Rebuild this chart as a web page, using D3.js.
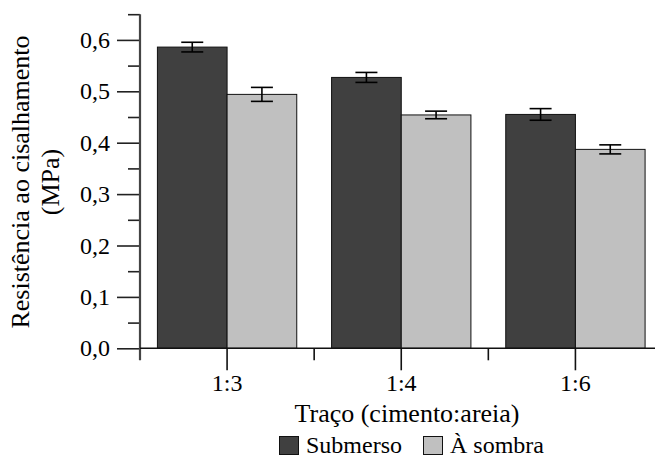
<!DOCTYPE html>
<html><head><meta charset="utf-8">
<script src="https://cdn.jsdelivr.net/npm/d3@7"></script>
<style>body{margin:0;background:#fff}svg{display:block}</style>
</head><body>
<svg id="c" width="655" height="457"></svg>
<script>
const categories = ["1:3", "1:4", "1:6"];
const seriesNames = ["Submerso", "À sombra"];
const submerso = [0.586, 0.527, 0.455];
const submersoErr = [0.0094, 0.0097, 0.0113];
const sombra = [0.494, 0.454, 0.387];
const sombraErr = [0.0136, 0.0074, 0.0088];
const yTicks = [0, 0.1, 0.2, 0.3, 0.4, 0.5, 0.6];
const yMinor = [0.05, 0.15, 0.25, 0.35, 0.45, 0.55, 0.65];
const colors = ["#404040", "#c0c0c0"];
const FONT = "'Liberation Serif'";

const svg = d3.select("#c");
const x0 = 140, xEnd = 662.5, y0 = 348.3, yTop = 14.2;
const x = d3.scaleBand().domain(categories).range([x0, xEnd]).paddingInner(0.2).paddingOuter(0.1);
const xs = d3.scaleBand().domain(seriesNames).range([0, x.bandwidth()]);
const y = d3.scaleLinear().domain([0, 0.65]).range([y0, yTop]);

const data = categories.map((c, i) => ({c, vals: [
  {s: seriesNames[0], v: submerso[i], e: submersoErr[i]},
  {s: seriesNames[1], v: sombra[i], e: sombraErr[i]}]}));

const g = svg.append("g");
data.forEach(d => {
  d.vals.forEach((b, j) => {
    g.append("rect").attr("x", x(d.c) + xs(b.s)).attr("y", y(b.v))
      .attr("width", xs.bandwidth()).attr("height", y0 - y(b.v))
      .attr("fill", colors[j]).attr("stroke", "#111").attr("stroke-width", 1);
  });
});
data.forEach(d => {
  d.vals.forEach(b => {
    const cx = x(d.c) + xs(b.s) + xs.bandwidth() / 2;
    const eg = svg.append("g").attr("stroke", "#000").attr("stroke-width", 1.6);
    eg.append("line").attr("x1", cx).attr("x2", cx).attr("y1", y(b.v + b.e)).attr("y2", y(b.v - b.e));
    eg.append("line").attr("x1", cx - 11).attr("x2", cx + 11).attr("y1", y(b.v + b.e)).attr("y2", y(b.v + b.e));
    eg.append("line").attr("x1", cx - 11).attr("x2", cx + 11).attr("y1", y(b.v - b.e)).attr("y2", y(b.v - b.e));
  });
});

const yAxis = svg.append("g").attr("transform", `translate(${x0},0)`)
  .call(d3.axisLeft(y).tickValues(yTicks).tickSize(23).tickPadding(7).tickFormat(d => d3.format(".1f")(d).replace(".", ",")));
yAxis.attr("font-family", null).attr("font-size", null);
yAxis.select(".domain").remove();
yAxis.selectAll(".tick line").attr("stroke", "#222").attr("stroke-width", 1.6);
yAxis.selectAll("text").style("font-family", FONT).style("font-size", "24px").attr("fill", "#000");
const yAxisMinor = svg.append("g").attr("transform", `translate(${x0},0)`)
  .call(d3.axisLeft(y).tickValues(yMinor).tickSize(12).tickFormat(""));
yAxisMinor.select(".domain").remove();
yAxisMinor.selectAll(".tick line").attr("stroke", "#222").attr("stroke-width", 1.6);
svg.append("line").attr("x1", x0).attr("x2", x0).attr("y1", yTop).attr("y2", y0 + 12)
  .attr("stroke", "#444").attr("stroke-width", 2.2);

svg.append("line").attr("x1", x0).attr("x2", 655).attr("y1", y0).attr("y2", y0)
  .attr("stroke", "#111").attr("stroke-width", 1.6);
const xAxis = svg.append("g").attr("transform", `translate(0,${y0})`)
  .call(d3.axisBottom(x).tickSize(22).tickPadding(4));
xAxis.attr("font-family", null).attr("font-size", null);
xAxis.select(".domain").remove();
xAxis.selectAll(".tick line").attr("stroke", "#111").attr("stroke-width", 1.6);
xAxis.selectAll("text").style("font-family", FONT).style("font-size", "24px").attr("fill", "#000");
const bounds = categories.map(c => x(c) - x.step() * x.paddingInner() / 2);
svg.append("g").selectAll("line").data(bounds.slice(1)).join("line")
  .attr("x1", d => d).attr("x2", d => d).attr("y1", y0).attr("y2", y0 + 12)
  .attr("stroke", "#111").attr("stroke-width", 1.6);

const t = (sel) => sel.style("font-family", FONT).attr("fill", "#000");
t(svg.append("text")).attr("transform", "translate(29,182) rotate(-90)").attr("text-anchor", "middle")
  .style("font-size", "26px").text("Resistência ao cisalhamento");
t(svg.append("text")).attr("transform", "translate(59,182) rotate(-90)").attr("text-anchor", "middle")
  .style("font-size", "26px").text("(MPa)");
t(svg.append("text")).attr("x", 407).attr("y", 422).attr("text-anchor", "middle")
  .style("font-size", "26px").text("Traço (cimento:areia)");

const legX = [279, 423];
seriesNames.forEach((s, i) => {
  svg.append("rect").attr("x", legX[i] + 0.5).attr("y", 436.5).attr("width", 19).attr("height", 18)
    .attr("fill", colors[i]).attr("stroke", "#111").attr("stroke-width", 1);
  t(svg.append("text")).attr("x", legX[i] + 27).attr("y", 453).style("font-size", "24px").text(s);
});
</script>
</body></html>
